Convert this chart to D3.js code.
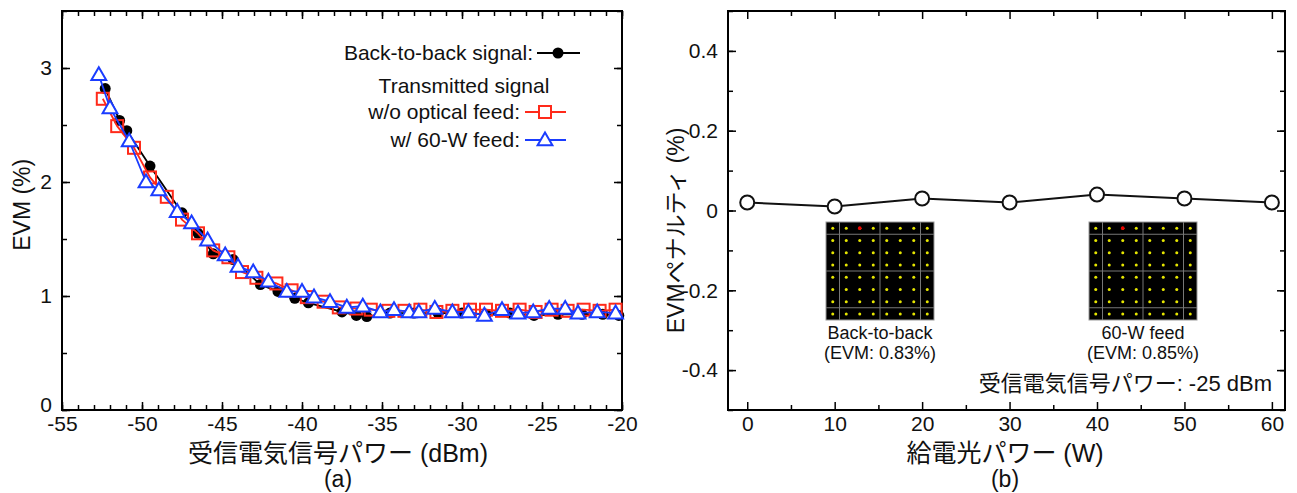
<!DOCTYPE html>
<html>
<head>
<meta charset="utf-8">
<script src="https://cdn.jsdelivr.net/npm/d3@7"></script>
<style>
  body { margin: 0; background: #fff; }
  svg { display: block; font-family: "Liberation Sans", Arial, "Noto Sans CJK JP", sans-serif; }
  .domain { display: none; }
  .tick line { stroke: #000; stroke-width: 1.5; }
  .tick text { fill: #111; }
</style>
</head>
<body>
<svg id="chart" width="1297" height="493"></svg>
<script>
// ---- data ----
// (a) back-to-back signal
const b2bX = [-52.3, -51.4, -50.95, -49.5, -47.5, -46.5, -45.55, -44.3, -42.6, -41.5, -40.45, -39.6, -37.5, -36.6, -35.95,
  -34.5, -33, -31.5, -30, -28.5, -27, -25.5, -24, -22.5, -21.2, -20.2];
const b2bY = [2.82, 2.54, 2.45, 2.14, 1.73, 1.55, 1.37, 1.32, 1.10, 1.04, 0.98, 0.94, 0.86, 0.83, 0.82,
  0.85, 0.85, 0.85, 0.85, 0.84, 0.85, 0.83, 0.84, 0.84, 0.84, 0.83];
// (a) transmitted, w/o optical feed
const noFeedX = [-52.45, -51.55, -50.5, -49.5, -48.45, -47.5, -46.5, -45.55, -44.6, -43.75, -42.85, -41.6, -40.65, -39.7, -38.65,
  -37.7, -36.6, -35.7, -34.6, -33.6, -32.6, -31.6, -30.6, -29.5, -28.5, -27.5, -26.4, -25.4, -24.4, -23.4, -22.4, -21.4, -20.4];
const noFeedY = [2.73, 2.49, 2.30, 2.04, 1.87, 1.67, 1.55, 1.40, 1.34, 1.21, 1.16, 1.11, 1.05, 0.99, 0.95,
  0.90, 0.89, 0.88, 0.87, 0.87, 0.88, 0.86, 0.87, 0.88, 0.88, 0.87, 0.88, 0.86, 0.88, 0.87, 0.88, 0.87, 0.88];
// (a) transmitted, w/ 60-W feed
const feedX = [-52.7, -52.0, -50.8, -49.75, -48.95, -47.8, -46.9, -45.9, -44.8, -44.0, -43.05, -42.1, -40.95, -40.0, -39.25,
  -38.25, -37.2, -36.2, -35.1, -34.25, -33.3, -32.7, -31.7, -30.6, -29.6, -28.6, -27.5, -26.5, -25.55, -24.55, -23.55, -22.75, -21.55, -20.4];
const feedY = [2.94, 2.65, 2.36, 2.00, 1.93, 1.74, 1.64, 1.49, 1.36, 1.26, 1.21, 1.13, 1.04, 1.04, 0.99,
  0.95, 0.90, 0.91, 0.86, 0.88, 0.86, 0.86, 0.89, 0.86, 0.86, 0.83, 0.88, 0.85, 0.86, 0.89, 0.89, 0.85, 0.86, 0.85];

// (b) EVM penalty vs feed power
const feedPower = [0, 10, 20, 30, 40, 50, 60];
const penalty = [0.02, 0.01, 0.03, 0.02, 0.04, 0.03, 0.02];

// ticks
const aXMajor = [-55, -50, -45, -40, -35, -30, -25, -20];
const aYMajor = [0, 1, 2, 3];
const bXMajor = [0, 10, 20, 30, 40, 50, 60];
const bYMajor = [-0.4, -0.2, 0, 0.2, 0.4];

// 64-QAM constellation levels for the insets
const qamLevels = [-7, -5, -3, -1, 1, 3, 5, 7];
const qamGrid = [-6, 0, 6];
const insets = [
  {px: 0, name: 'Back-to-back', evm: '(EVM: 0.83%)'},
  {px: 1, name: '60-W feed', evm: '(EVM: 0.85%)'}
];
const insetRed = [-3, 7];

const svg = d3.select('#chart');
const TOP = 11, BOT = 410;

function frame(g, x, y, xMaj, xMin, yMaj, yMin, yFmt) {
  const [x0, x1] = x.range();
  const [y0, y1] = y.range();
  const add = (axis, tf) => g.append('g').attr('transform', tf).call(axis);
  add(d3.axisBottom(x).tickValues(xMaj).tickSize(-8).tickPadding(6).tickFormat(d => String(d)), `translate(0,${y0})`);
  add(d3.axisBottom(x).tickValues(xMin).tickSize(-5).tickFormat(''), `translate(0,${y0})`);
  add(d3.axisTop(x).tickValues(xMaj).tickSize(-8).tickFormat(''), `translate(0,${y1})`);
  add(d3.axisTop(x).tickValues(xMin).tickSize(-5).tickFormat(''), `translate(0,${y1})`);
  const yl = add(d3.axisLeft(y).tickValues(yMaj).tickSize(-8).tickPadding(10).tickFormat(yFmt), `translate(${x0},0)`);
  add(d3.axisLeft(y).tickValues(yMin).tickSize(-5).tickFormat(''), `translate(${x0},0)`);
  add(d3.axisRight(y).tickValues(yMaj).tickSize(-8).tickFormat(''), `translate(${x1},0)`);
  add(d3.axisRight(y).tickValues(yMin).tickSize(-5).tickFormat(''), `translate(${x1},0)`);
  g.append('rect').attr('x', x0).attr('y', y1).attr('width', x1 - x0).attr('height', y0 - y1)
    .attr('fill', 'none').attr('stroke', '#000').attr('stroke-width', 2);
  g.selectAll('.tick text').style('font-size', '21px');
  return yl;
}

// ---------- (a) ----------
const xa = d3.scaleLinear().domain([-55, -20]).range([62, 622]);
const ya = d3.scaleLinear().domain([0, 3.5]).range([BOT, TOP]);
const ga = svg.append('g');
const yAxisA = frame(ga, xa, ya, aXMajor, d3.range(-55, -19, 1), aYMajor, d3.range(0, 3.51, 0.5), d => String(d));
// the bottom "0" sits a little above the corner, as in the original
yAxisA.selectAll('.tick').filter(d => d === 0).select('text').attr('dy', '0.05em');

const lineA = (xs, ys) => d3.line().x((d, i) => xa(xs[i])).y((d, i) => ya(ys[i]))(xs);
const plot = ga.append('g');

// back-to-back
plot.append('path').attr('d', lineA(b2bX, b2bY)).attr('fill', 'none').attr('stroke', '#000').attr('stroke-width', 1.8);
plot.selectAll('.b2b').data(b2bX).join('circle')
  .attr('cx', d => xa(d)).attr('cy', (d, i) => ya(b2bY[i])).attr('r', 5.5).attr('fill', '#000');

// w/o feed
plot.append('path').attr('d', lineA(noFeedX, noFeedY)).attr('fill', 'none').attr('stroke', '#ff2a1a').attr('stroke-width', 1.8);
plot.selectAll('.nf').data(noFeedX).join('rect')
  .attr('x', d => xa(d) - 6).attr('y', (d, i) => ya(noFeedY[i]) - 6)
  .attr('width', 12).attr('height', 12).attr('fill', 'none').attr('stroke', '#ff2a1a').attr('stroke-width', 2);

// w/ feed
const tri = d3.symbol().type(d3.symbolTriangle).size(95);
plot.append('path').attr('d', lineA(feedX, feedY)).attr('fill', 'none').attr('stroke', '#1a3cff').attr('stroke-width', 1.8);
plot.selectAll('.wf').data(feedX).join('path')
  .attr('d', tri).attr('transform', (d, i) => `translate(${xa(d)},${ya(feedY[i]) + 1})`)
  .attr('fill', '#fff').attr('stroke', '#1a3cff').attr('stroke-width', 2);

// legend
const lg = ga.append('g').style('font-size', '21px').attr('fill', '#111');
lg.append('text').attr('x', 533).attr('y', 60).attr('text-anchor', 'end').text('Back-to-back signal:');
lg.append('line').attr('x1', 537).attr('x2', 580).attr('y1', 53).attr('y2', 53).attr('stroke', '#000').attr('stroke-width', 1.8);
lg.append('circle').attr('cx', 558).attr('cy', 53).attr('r', 5.5).attr('fill', '#000');
lg.append('text').attr('x', 464).attr('y', 93).attr('text-anchor', 'middle').text('Transmitted signal');
lg.append('text').attr('x', 520).attr('y', 119).attr('text-anchor', 'end').text('w/o optical feed:');
lg.append('line').attr('x1', 525).attr('x2', 566).attr('y1', 112).attr('y2', 112).attr('stroke', '#ff2a1a').attr('stroke-width', 1.8);
lg.append('rect').attr('x', 539).attr('y', 106).attr('width', 12).attr('height', 12).attr('fill', '#fff').attr('stroke', '#ff2a1a').attr('stroke-width', 2);
lg.append('text').attr('x', 520).attr('y', 147).attr('text-anchor', 'end').text('w/ 60-W feed:');
lg.append('line').attr('x1', 525).attr('x2', 566).attr('y1', 140).attr('y2', 140).attr('stroke', '#1a3cff').attr('stroke-width', 1.8);
lg.append('path').attr('d', tri).attr('transform', 'translate(545,141)').attr('fill', '#fff').attr('stroke', '#1a3cff').attr('stroke-width', 2);

ga.append('text').attr('transform', `translate(30,${ya(1.8)}) rotate(-90)`).attr('text-anchor', 'middle')
  .style('font-size', '23px').attr('fill', '#111').text('EVM (%)');
ga.append('text').attr('x', 338).attr('y', 462).attr('text-anchor', 'middle')
  .style('font-size', '25px').attr('fill', '#111').text('受信電気信号パワー (dBm)');
ga.append('text').attr('x', 338).attr('y', 487).attr('text-anchor', 'middle')
  .style('font-size', '23px').attr('fill', '#111').text('(a)');

// ---------- (b) ----------
const xb = d3.scaleLinear().domain([-2.2, 61.5]).range([728, 1285]);
const yb = d3.scaleLinear().domain([-0.5, 0.5]).range([BOT, TOP]);
const gb = svg.append('g');
frame(gb, xb, yb, bXMajor, d3.range(5, 60, 10), bYMajor, d3.range(-0.5, 0.51, 0.1).map(v => +v.toFixed(1)),
  d => d === 0 ? '0' : d.toFixed(1));

gb.append('path')
  .attr('d', d3.line().x((d, i) => xb(d)).y((d, i) => yb(penalty[i]))(feedPower))
  .attr('fill', 'none').attr('stroke', '#111').attr('stroke-width', 2);
gb.selectAll('.pen').data(feedPower).join('circle')
  .attr('cx', d => xb(d)).attr('cy', (d, i) => yb(penalty[i])).attr('r', 7)
  .attr('fill', '#fff').attr('stroke', '#111').attr('stroke-width', 2);

// constellation insets
const insetX0 = [826, 1089];
insets.forEach(ins => {
  const left = insetX0[ins.px];
  const qx = d3.scaleLinear().domain([-8, 8]).range([left, left + 108]);
  const qy = d3.scaleLinear().domain([-8, 8]).range([320, 222]);
  const ig = gb.append('g');
  ig.append('rect').attr('x', qx(-8)).attr('y', qy(8)).attr('width', qx(8) - qx(-8)).attr('height', qy(-8) - qy(8))
    .attr('fill', '#000').attr('stroke', '#999').attr('stroke-width', 1);
  qamGrid.forEach(g => {
    ig.append('line').attr('x1', qx(g)).attr('x2', qx(g)).attr('y1', qy(8)).attr('y2', qy(-8)).attr('stroke', '#777').attr('stroke-width', 1);
    ig.append('line').attr('x1', qx(-8)).attr('x2', qx(8)).attr('y1', qy(g)).attr('y2', qy(g)).attr('stroke', '#777').attr('stroke-width', 1);
  });
  const pts = d3.cross(qamLevels, qamLevels);
  ig.selectAll('.q').data(pts).join('circle')
    .attr('cx', d => qx(d[0])).attr('cy', d => qy(d[1])).attr('r', 1.5).attr('fill', '#e6e600');
  ig.append('circle').attr('cx', qx(insetRed[0])).attr('cy', qy(insetRed[1])).attr('r', 1.8).attr('fill', '#e00');
  const cx = (qx(-8) + qx(8)) / 2;
  ig.append('text').attr('x', cx).attr('y', 339).attr('text-anchor', 'middle').style('font-size', '18px').attr('fill', '#111').text(ins.name);
  ig.append('text').attr('x', cx).attr('y', 359).attr('text-anchor', 'middle').style('font-size', '18px').attr('fill', '#111').text(ins.evm);
});

gb.append('text').attr('x', 1272).attr('y', 391).attr('text-anchor', 'end')
  .style('font-size', '22px').attr('fill', '#111').text('受信電気信号パワー: -25 dBm');

gb.append('text').attr('transform', `translate(684,${yb(-0.05)}) rotate(-90)`).attr('text-anchor', 'middle')
  .style('font-size', '23px').attr('fill', '#111').text('EVMペナルティ (%)');
gb.append('text').attr('x', 1005).attr('y', 462).attr('text-anchor', 'middle')
  .style('font-size', '25px').attr('fill', '#111').text('給電光パワー (W)');
gb.append('text').attr('x', 1005).attr('y', 487).attr('text-anchor', 'middle')
  .style('font-size', '23px').attr('fill', '#111').text('(b)');
</script>
</body>
</html>
